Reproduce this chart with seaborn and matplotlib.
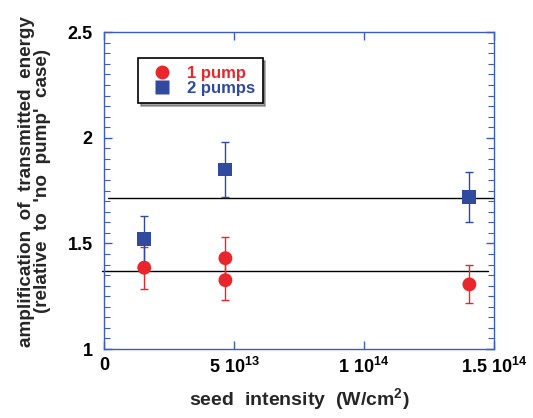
import numpy as np
import pandas as pd
import seaborn as sns
import matplotlib.pyplot as plt
from matplotlib.ticker import MultipleLocator

# data
x_one = [1.55e13, 4.67e13, 4.67e13, 1.405e14]
y_one = [1.385, 1.43, 1.326, 1.306]
e_one = [0.10, 0.10, 0.093, 0.09]

x_two = [1.55e13, 4.67e13, 1.405e14]
y_two = [1.52, 1.85, 1.72]
e_two = [0.11, 0.13, 0.12]

fit_one = 1.370
fit_two = 1.716

xticks = [0, 5e13, 1e14, 1.5e14]
xticklabels = ["0", r"5 10$^{\mathbf{13}}$", r"1 10$^{\mathbf{14}}$", r"1.5 10$^{\mathbf{14}}$"]
yticks = [1, 1.5, 2, 2.5]

red = "#e8262b"
blue = "#2f4a9e"
frame = "#3b5cc0"

df = pd.DataFrame({
    "x": x_one + x_two,
    "y": y_one + y_two,
    "err": e_one + e_two,
    "case": ["1 pump"] * len(x_one) + ["2 pumps"] * len(x_two),
})

sns.set_style("ticks")
plt.rcParams["font.family"] = ["Liberation Sans", "DejaVu Sans"]
plt.rcParams["font.weight"] = "bold"
plt.rcParams["mathtext.fontset"] = "custom"
plt.rcParams["mathtext.bf"] = "Liberation Sans:bold"
plt.rcParams["mathtext.rm"] = "Liberation Sans:bold"
plt.rcParams["mathtext.default"] = "bf"

fig = plt.figure(figsize=(5.33, 4.18), dpi=100)
ax = fig.add_axes([0.195, 0.165, 0.732, 0.758])

# fitted horizontal levels
ax.plot([-0.08e13, 1.475e14], [fit_one, fit_one], color="black", lw=1.0, clip_on=False, zorder=1)
ax.plot([0.15e13, 1.5e14], [fit_two, fit_two], color="black", lw=1.0, zorder=1)

pal = {"1 pump": red, "2 pumps": blue}
for case, sub in df.groupby("case"):
    ax.errorbar(sub["x"], sub["y"], yerr=sub["err"], fmt="none",
                ecolor=pal[case], elinewidth=1.0, capsize=3, capthick=1.0, zorder=2)

sns.scatterplot(data=df, x="x", y="y", hue="case", style="case",
                palette=pal, markers={"1 pump": "o", "2 pumps": "s"},
                s=100, edgecolor="none", ax=ax, zorder=3)

ax.set_xlim(0, 1.5e14)
ax.set_ylim(1, 2.5)
ax.set_xticks(xticks)
ax.set_xticklabels(xticklabels)
ax.set_yticks(yticks)
ax.set_yticklabels(["1", "1.5", "2", "2.5"])
ax.yaxis.set_minor_locator(MultipleLocator(0.05))

ax.tick_params(axis="both", which="both", direction="in", top=True, right=True,
               color=frame, labelsize=13, labelcolor="black")
ax.tick_params(axis="both", which="major", length=6, width=1)
ax.tick_params(axis="y", which="minor", length=4, width=0.8)
ax.tick_params(axis="x", which="major", pad=6)
ax.tick_params(axis="y", which="major", pad=8)
for lab in ax.get_xticklabels() + ax.get_yticklabels():
    lab.set_fontweight("bold")
for sp in ax.spines.values():
    sp.set_color(frame)
    sp.set_linewidth(1.0)

ax.set_xlabel("seed  intensity  (W/cm$^{\\mathbf{2}}$)", fontsize=14, fontweight="bold", labelpad=6)
ax.set_ylabel("amplification  of  transmitted  energy\n(relative  to  'no  pump'  case)",
              fontsize=13.6, fontweight="bold", linespacing=0.95)
ax.yaxis.set_label_coords(-0.135, 0.53)

leg = ax.legend(loc="upper left", bbox_to_anchor=(0.087, 0.918), frameon=True,
                fancybox=False, shadow=True, edgecolor="black", framealpha=1,
                fontsize=12, handletextpad=0.5, borderpad=0.45, labelspacing=0.0,
                borderaxespad=0, markerscale=1.0)
leg.get_frame().set_linewidth(1.2)
for t, c in zip(leg.get_texts(), [red, blue]):
    t.set_color(c)
    t.set_fontweight("bold")

fig.savefig("out.png", dpi=100)
